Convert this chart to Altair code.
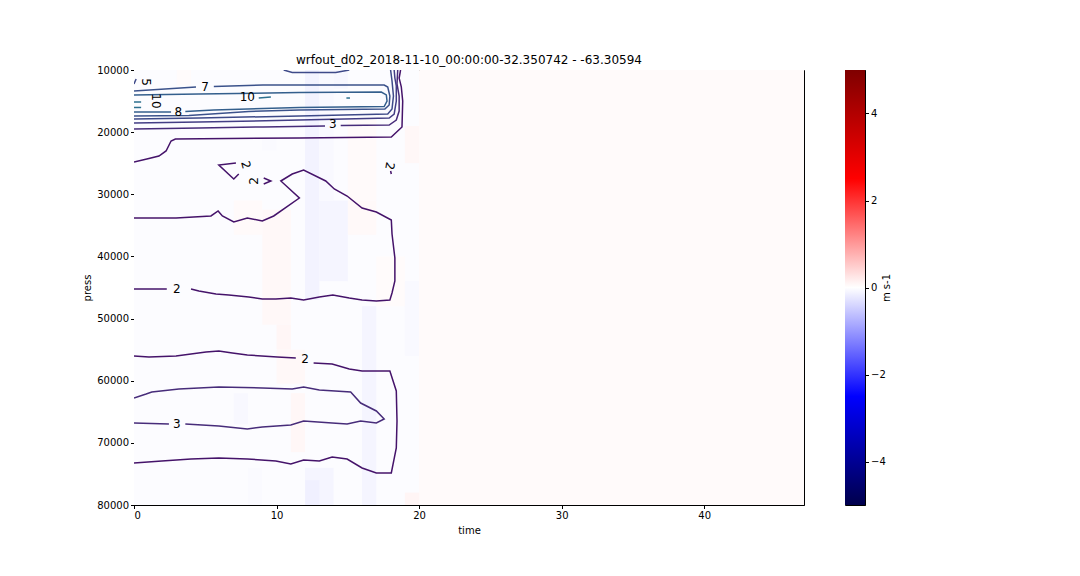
import altair as alt
import pandas as pd

TITLE = "wrfout_d02_2018-11-10_00:00:00-32.350742 - -63.30594"
FONT = "DejaVu Sans"

TIME_TICKS = [0, 10, 20, 30, 40]
PRESS_TICKS = [10000, 20000, 30000, 40000, 50000, 60000, 70000, 80000]
CBAR_TICKS = [-4, -2, 0, 2, 4]
CBAR_RANGE = [-5, 5]

# shaded cells (time from, time to, press from, press to, value in m s-1)
CELL_T0 = [0, 20, 12, 13, 13, 14, 7, 9, 10, 10, 11, 15, 15, 17, 16, 19, 19, 19, 12, 12, 7, 8, 9, 3]
CELL_T1 = [20, 47, 13, 15, 14, 15, 9, 11, 11, 12, 12, 17, 17, 19, 17, 20, 20, 20, 14, 13, 8, 9, 10, 4]
CELL_P0 = [10000, 10000, 10000, 31000, 10000, 10000, 31000, 32500, 51000, 55000, 62000, 31000,
           18000, 40000, 48000, 44000, 19000, 78000, 74000, 76000, 62000, 74000, 21000, 10000]
CELL_P1 = [80000, 80000, 47000, 44000, 31000, 13000, 36500, 51000, 55000, 60500, 71500, 36500,
           31000, 48000, 80000, 56000, 25000, 80000, 80000, 80000, 67000, 80000, 23000, 12500]
CELL_V = [-0.025, 0.045, -0.12, -0.10, -0.06, -0.08, 0.05, 0.07, 0.09, 0.07, 0.08, 0.06,
          0.05, 0.04, -0.10, -0.06, 0.08, 0.10, -0.10, -0.15, -0.07, -0.05, -0.05, 0.04]

# contour pieces (time, press)
TOP2_T = [0, 0.9, 1.75, 2.25, 2.6, 2.9, 6.65, 11.6, 18.05, 18.8, 18.85, 18.75, 18.6, 18.7]
TOP2_P = [24800, 24320, 23840, 23030, 21420, 21100, 21020, 20940, 20780, 19170, 15000, 12700, 11300, 10000]
TOP3A_T = [0, 4.55, 9.05, 13.4]
TOP3A_P = [19490, 19330, 19170, 19010]
TOP3B_T = [14.5, 17.9, 18.4, 18.6, 18.6, 18.45, 18.5]
TOP3B_P = [18930, 18850, 18050, 16600, 14200, 12250, 10000]
TOP4_T = [0, 4.55, 11.6, 17.9, 18.25, 18.4, 18.4, 18.3, 18.25]
TOP4_P = [18530, 18370, 18050, 17720, 17080, 14990, 12570, 11290, 10000]
TOP5_T = [0, 4.55, 11.6, 17.8, 18.1, 18.2, 18.1, 18.0]
TOP5_P = [17890, 17720, 17400, 17080, 16280, 14180, 11770, 10000]
TOP7A_T = [0, 4.35]
TOP7A_P = [13380, 12740]
TOP7B_T = [5.6, 9.05, 13.7, 17.55, 17.8, 17.95, 17.9, 17.6, 11.6, 8.05, 3.85, 0]
TOP7B_P = [12660, 12410, 12410, 12410, 12740, 14180, 15630, 16280, 16440, 16680, 17320, 17400]
TOP8A_T = [0, 4.55, 11.6, 17.35, 17.7, 17.75, 17.55, 11.6, 5.6, 3.6]
TOP8A_P = [14020, 13860, 13620, 13540, 14020, 14990, 15870, 16030, 16440, 16680]
TOP8B_T = [2.6, 0]
TOP8B_P = [16760, 16760]
TEN1_T = [8.75, 9.6]
TEN1_P = [14510, 14340]
TEN2_T = [14.9, 15.15]
TEN2_P = [14510, 14510]
TEN3_T = [0, 0.5]
TEN3_P = [15150, 15150]
TEN4_T = [0, 0.5]
TEN4_P = [16030, 16030]
FIVE_T = [0, 0.15]
FIVE_P = [12250, 11450]
DIP_T = [10.5, 11.1, 14.15, 15.1]
DIP_P = [10000, 10400, 10400, 10000]

MIDA_T = [0, 2.95, 5.4, 5.9, 6.2, 7.0, 7.95, 9.0, 9.8, 11.6, 10.3, 11.1, 11.9, 13.45, 14.05,
          14.95, 16.0, 17.0, 18.05, 18.1, 18.3, 18.3, 18.1, 17.95, 17.0, 16.0, 15.1, 13.95,
          13.0, 11.9, 11.0, 9.95, 9.0, 8.05, 6.65, 5.75, 4.55, 4.0]
MIDA_P = [33820, 33820, 33490, 32690, 33490, 34460, 33820, 34300, 33490, 30600, 27860, 26740,
          26090, 27860, 29150, 30280, 32210, 32850, 34140, 36390, 40250, 43950, 45880, 47010,
          47170, 47010, 46690, 46210, 46530, 47010, 46690, 46850, 46850, 46530, 46210, 46050,
          45560, 45240]
MIDB_T = [2.3, 0]
MIDB_P = [45240, 45240]
VEE_T = [7.15, 5.95, 7.0, 7.35]
VEE_P = [24970, 25290, 27540, 26740]
ARROW_T = [9.1, 9.6, 9.1]
ARROW_P = [27380, 27860, 28350]
TAIL_T = [18.0, 18.05]
TAIL_P = [26250, 26740]

LOW2A_T = [0, 1.05, 2.95, 5.05, 5.95, 6.9, 7.95, 10.05, 11.35]
LOW2A_P = [56020, 56180, 56020, 55380, 55220, 55540, 55860, 56180, 56340]
LOW2B_T = [12.6, 13.9, 15.1, 16.0, 17.0, 17.95, 18.4, 18.45, 18.4, 18.05, 17.0, 16.0, 14.95,
           13.9, 13.0, 11.9, 11.0, 9.95, 7.95, 5.95, 4.0, 1.95, 0]
LOW2B_P = [57150, 57310, 58120, 58440, 58440, 58440, 61650, 66480, 70830, 74850, 74850, 74040,
           72600, 72270, 72920, 72760, 73400, 72920, 72600, 72440, 72600, 72920, 73240]
LOW3A_T = [0, 0.85, 1.25, 3.15, 5.95, 9.0, 11.1, 11.9, 13.0, 15.2, 15.9, 17.0, 17.55, 17.0,
           15.9, 14.95, 13.9, 11.9, 11.0, 9.0, 7.95, 5.95, 3.6]
LOW3A_P = [62780, 62140, 61810, 61330, 61010, 61170, 61330, 61010, 61490, 61810, 63590, 64870,
           66160, 66800, 66480, 66970, 66800, 66480, 67130, 67450, 67770, 67290, 66970]
LOW3B_T = [2.45, 0]
LOW3B_P = [66970, 66800]

# contour labels
LABEL_TEXT = ["5", "7", "10", "10", "8", "3", "2", "2", "2", "2", "2", "3"]
LABEL_T = [0.85, 4.98, 1.55, 7.95, 3.1, 13.95, 7.85, 8.4, 17.95, 3.0, 12.0, 3.0]
LABEL_P = [11930, 12740, 14990, 14340, 16760, 18690, 25290, 27860, 25450, 45240, 56510, 66970]
LABEL_ANGLE = [90, 0, 90, 0, 0, 0, 75, 270, 100, 0, 0, 0]

LEVEL_COLORS = {
    "2": "#45136a", "3": "#472c7a", "4": "#433e85", "5": "#3e4a89",
    "7": "#3b528b", "8": "#345f8d", "10": "#2d708e",
}

pieces = [
    ("top2", "2", TOP2_T, TOP2_P), ("top3a", "3", TOP3A_T, TOP3A_P),
    ("top3b", "3", TOP3B_T, TOP3B_P), ("top4", "4", TOP4_T, TOP4_P),
    ("top5", "5", TOP5_T, TOP5_P), ("top7a", "7", TOP7A_T, TOP7A_P),
    ("top7b", "7", TOP7B_T, TOP7B_P), ("top8a", "8", TOP8A_T, TOP8A_P),
    ("top8b", "8", TOP8B_T, TOP8B_P), ("ten1", "10", TEN1_T, TEN1_P),
    ("ten2", "10", TEN2_T, TEN2_P), ("ten3", "10", TEN3_T, TEN3_P),
    ("ten4", "10", TEN4_T, TEN4_P), ("five", "5", FIVE_T, FIVE_P),
    ("dip", "5", DIP_T, DIP_P), ("mida", "2", MIDA_T, MIDA_P),
    ("midb", "2", MIDB_T, MIDB_P), ("vee", "2", VEE_T, VEE_P),
    ("arrow", "2", ARROW_T, ARROW_P), ("tail", "2", TAIL_T, TAIL_P),
    ("low2a", "2", LOW2A_T, LOW2A_P), ("low2b", "2", LOW2B_T, LOW2B_P),
    ("low3a", "3", LOW3A_T, LOW3A_P), ("low3b", "3", LOW3B_T, LOW3B_P),
]

rows = []
for name, level, ts, ps in pieces:
    for i, (t, p) in enumerate(zip(ts, ps)):
        rows.append({"piece": name, "i": i, "time": t, "press": p,
                     "col": LEVEL_COLORS[level]})
lines_df = pd.DataFrame(rows)

cells_df = pd.DataFrame({"t0": CELL_T0, "t1": CELL_T1, "p0": CELL_P0,
                         "p1": CELL_P1, "v": CELL_V})
labels_df = pd.DataFrame({"text": LABEL_TEXT, "time": LABEL_T, "press": LABEL_P,
                          "angle": LABEL_ANGLE})

seismic = ["#00004c", "#0000ff", "#ffffff", "#ff0000", "#7f0000"]
x_scale = alt.Scale(domain=[0, 47], nice=False, zero=False)
y_scale = alt.Scale(domain=[10000, 80000], reverse=True, nice=False, zero=False)
x_axis = alt.Axis(values=TIME_TICKS, title="time", grid=False, tickSize=3.5,
                  labelPadding=2, titlePadding=5)
y_axis = alt.Axis(values=PRESS_TICKS, title="press", format="d", grid=False,
                  tickSize=3.5, labelPadding=2, minExtent=38, maxExtent=38,
                  titlePadding=4)

cells = alt.Chart(cells_df).mark_rect(strokeWidth=0).encode(
    x=alt.X("t0:Q", scale=x_scale, axis=x_axis),
    x2="t1:Q",
    y=alt.Y("p0:Q", scale=y_scale, axis=y_axis),
    y2="p1:Q",
    fill=alt.Fill("v:Q", legend=None,
                  scale=alt.Scale(domain=[-5, -2.5, 0, 2.5, 5], range=seismic,
                                  interpolate="rgb")),
)

lines = alt.Chart(lines_df).mark_line(strokeWidth=1.5, clip=True).encode(
    x="time:Q", y="press:Q", detail="piece:N", order="i:Q",
    stroke=alt.Stroke("col:N", scale=None),
)

labels = alt.Chart(labels_df).mark_text(fontSize=12, color="black", font=FONT).encode(
    x="time:Q", y="press:Q", text="text:N",
    angle=alt.Angle("angle:Q", scale=None),
)

main = alt.layer(cells, lines, labels).resolve_scale(
    fill="independent", stroke="independent"
).properties(
    width=670, height=435,
    title=alt.TitleParams(TITLE, fontSize=12, fontWeight="normal", anchor="middle",
                          offset=-2, frame="group", font=FONT, color="black"),
)

cbar = alt.Chart(pd.DataFrame({"lo": [CBAR_RANGE[0]], "hi": [CBAR_RANGE[1]]})).mark_rect(
    color=alt.Gradient(
        gradient="linear",
        stops=[alt.GradientStop(offset=0, color=seismic[0]),
               alt.GradientStop(offset=0.25, color=seismic[1]),
               alt.GradientStop(offset=0.5, color=seismic[2]),
               alt.GradientStop(offset=0.75, color=seismic[3]),
               alt.GradientStop(offset=1, color=seismic[4])],
        x1=0, x2=0, y1=1, y2=0,
    )
).encode(
    x=alt.value(0), x2=alt.value(20),
    y=alt.Y("lo:Q", scale=alt.Scale(domain=CBAR_RANGE, nice=False),
            axis=alt.Axis(orient="right", values=CBAR_TICKS, title="m s-1",
                          titleAngle=270, grid=False, tickSize=3.5, labelPadding=2,
                          titlePadding=6,
                          labelExpr="replace(datum.label, '-', '\u2212')")),
    y2="hi:Q",
).properties(width=20, height=435)

chart = alt.hconcat(main, cbar, spacing=41, bounds="flush").properties(
    padding={"left": 73, "top": 45, "right": 5, "bottom": 5}
).configure_view(stroke="black", strokeWidth=1).configure_axis(
    labelFont=FONT, titleFont=FONT, labelFontSize=10, titleFontSize=10,
    labelColor="black", titleColor="black", tickColor="black", domainColor="black",
    titleFontWeight="normal",
)

chart.save("out.html", embed_options={"renderer": "svg", "actions": False})
